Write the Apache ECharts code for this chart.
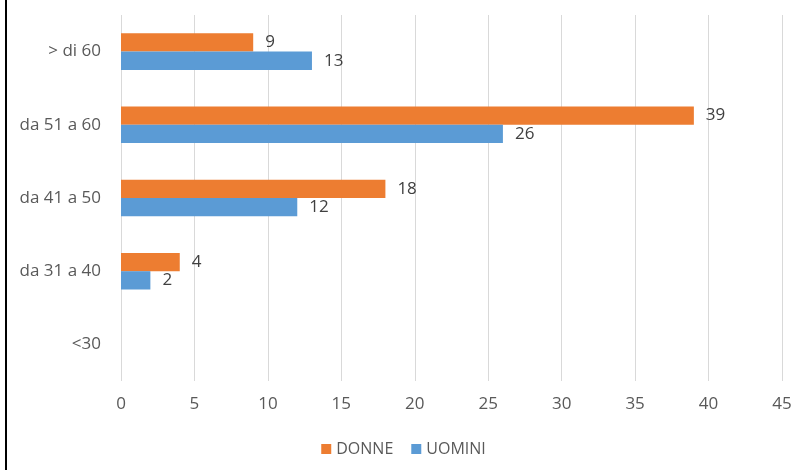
<!DOCTYPE html>
<html><head><meta charset="utf-8">
<script src="https://cdn.jsdelivr.net/npm/echarts@6/dist/echarts.min.js"></script>
<style>html,body{margin:0;padding:0;background:#fff}#c{width:807px;height:470px}</style>
</head><body><div id="c"></div>
<script>
const categories = ['<30', 'da 31 a 40', 'da 41 a 50', 'da 51 a 60', '> di 60'];
const donne = [null, 4, 18, 39, 9];
const uomini = [null, 2, 12, 26, 13];
const xTicks = [0, 5, 10, 15, 20, 25, 30, 35, 40, 45];

const font = '"Open Sans", sans-serif';
const chart = echarts.init(document.getElementById('c'), null, {renderer: 'canvas'});
chart.setOption({
  animation: false,
  graphic: [{type: 'rect', shape: {x: 5, y: 0, width: 2, height: 470}, style: {fill: '#000'}}],
  grid: {left: 121, right: 25, top: 15, bottom: 89},
  legend: {
    bottom: 8, left: 'center',
    data: ['DONNE', 'UOMINI'],
    icon: 'rect', itemWidth: 10, itemHeight: 10, itemGap: 18,
    textStyle: {color: '#595959', fontSize: 16, fontFamily: font}
  },
  xAxis: {
    type: 'value', min: xTicks[0], max: xTicks[xTicks.length - 1], interval: 5,
    axisLine: {show: false}, axisTick: {show: false},
    splitLine: {lineStyle: {color: '#d9d9d9', width: 1}},
    axisLabel: {color: '#595959', fontSize: 17, fontFamily: font, margin: 15}
  },
  yAxis: {
    type: 'category', data: categories,
    axisLine: {show: false}, axisTick: {show: false},
    axisLabel: {color: '#595959', fontSize: 17, fontFamily: font, margin: 20}
  },
  series: [
    {name: 'DONNE', type: 'bar', data: donne, barGap: '0%', barCategoryGap: '50%',
     itemStyle: {color: '#ED7D31'},
     label: {show: true, position: 'right', distance: 12, color: '#404040', fontSize: 17, fontFamily: font}},
    {name: 'UOMINI', type: 'bar', data: uomini, barGap: '0%', barCategoryGap: '50%',
     itemStyle: {color: '#5B9BD5'},
     label: {show: true, position: 'right', distance: 12, color: '#404040', fontSize: 17, fontFamily: font}}
  ]
});
</script></body></html>
